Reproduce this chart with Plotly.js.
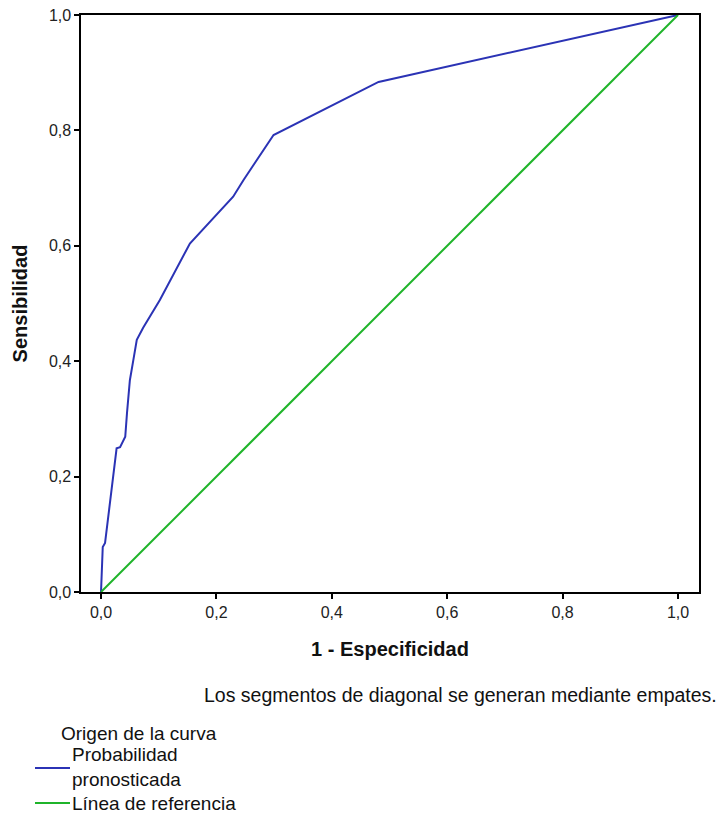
<!DOCTYPE html>
<html>
<head>
<meta charset="utf-8">
<script src="https://cdn.plot.ly/plotly-3.0.1.min.js"></script>
<style>html,body{margin:0;padding:0;background:#fff;}#chart{width:721px;height:815px;}</style>
</head>
<body>
<div id="chart"></div>
<script>
// ROC curve
const fpr = [0, 0.003, 0.007, 0.017, 0.027, 0.033, 0.042, 0.045, 0.050, 0.056, 0.062, 0.073, 0.102, 0.154, 0.229, 0.247, 0.299, 0.481, 1.0];
const tpr = [0, 0.078, 0.085, 0.170, 0.249, 0.251, 0.269, 0.310, 0.367, 0.402, 0.437, 0.458, 0.506, 0.604, 0.685, 0.714, 0.792, 0.884, 1.0];
const refX = [0, 1];
const refY = [0, 1];
const tickVals = [0, 0.2, 0.4, 0.6, 0.8, 1.0];
const seriesNames = ["Probabilidad pronosticada", "Línea de referencia"];
const legendLabels = ["Probabilidad<br>pronosticada", "Línea de referencia"];
const xTitle = "1 - Especificidad";
const yTitle = "Sensibilidad";
const noteText = "Los segmentos de diagonal se generan mediante empates.";
const legendTitle = "Origen de la curva";
const colors = ['#2b33b5', '#1fb42a'];

const FONT = "Liberation Sans, Arial, sans-serif";
const W = 721, H = 815, L = 81, R = 22, T = 15, B = 223;
const pw = W - L - R, ph = H - T - B;
const px2x = p => (p - L) / pw;
const py2y = p => (T + ph - p) / ph;

const traces = [
  {x: fpr, y: tpr, type: 'scatter', mode: 'lines', name: seriesNames[0],
   line: {color: colors[0], width: 2}},
  {x: refX, y: refY, type: 'scatter', mode: 'lines', name: seriesNames[1],
   line: {color: colors[1], width: 2}}
];

const axisCommon = {
  showgrid: false, zeroline: false, showline: true, mirror: true,
  linecolor: '#000', linewidth: 1.6, ticks: 'outside', ticklen: 5, tickwidth: 2,
  tickcolor: '#000', tickvals: tickVals, tickformat: '.1f',
  tickfont: {family: FONT, size: 16, color: '#222'}
};

// hand-drawn legend (keeps the plot area fixed)
const legendSampleY = [768, 803];
const shapes = legendSampleY.map((py, i) => ({
  type: 'line', xref: 'paper', yref: 'paper',
  x0: px2x(35), x1: px2x(70), y0: py2y(py), y1: py2y(py),
  line: {color: colors[i], width: 2}
}));
const annotations = [
  {xref: 'paper', yref: 'paper', x: px2x(719), y: py2y(695), xanchor: 'right', yanchor: 'middle',
   text: noteText, showarrow: false, font: {family: FONT, size: 19.5, color: '#111'}},
  {xref: 'paper', yref: 'paper', x: px2x(59), y: py2y(733), xanchor: 'left', yanchor: 'middle',
   text: legendTitle, showarrow: false, font: {family: FONT, size: 19, color: '#111'}}
];
legendLabels.forEach((t, i) => annotations.push({
  xref: 'paper', yref: 'paper', x: px2x(71), y: py2y(legendSampleY[i] + (i === 0 ? -1 : 0)),
  xanchor: 'left', yanchor: 'middle', align: 'left', text: t, showarrow: false, borderpad: 0,
  font: {family: FONT, size: 19, color: '#111'}
}));

const layout = {
  width: W, height: H,
  margin: {l: L, r: R, t: T, b: B},
  separators: ',.',
  paper_bgcolor: '#fff', plot_bgcolor: '#fff',
  font: {family: FONT, color: '#111'},
  xaxis: Object.assign({}, axisCommon, {
    range: [-0.0347, 1.0364],
    title: {text: '<b>' + xTitle + '</b>', font: {family: FONT, size: 20, color: '#111'}, standoff: 22}
  }),
  yaxis: Object.assign({}, axisCommon, {
    range: [0, 1],
    title: {text: '<b>' + yTitle + '</b>', font: {family: FONT, size: 20, color: '#111'}, standoff: 16}
  }),
  showlegend: false,
  shapes: shapes,
  annotations: annotations
};

Plotly.newPlot('chart', traces, layout, {displayModeBar: false, staticPlot: true});
</script>
</body>
</html>
